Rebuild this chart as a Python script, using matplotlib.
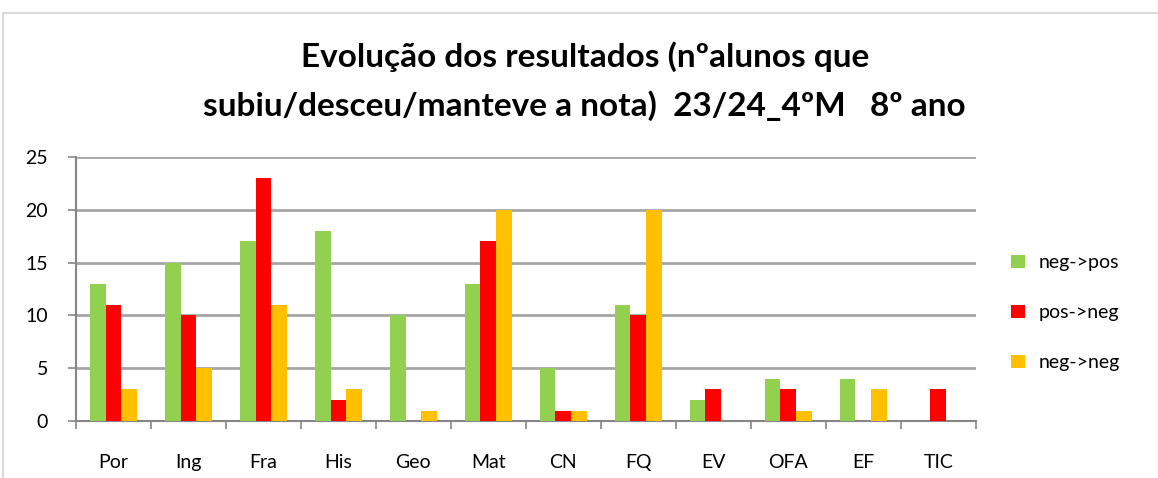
import matplotlib.pyplot as plt
import numpy as np
from matplotlib.lines import Line2D

subjects = ['Por', 'Ing', 'Fra', 'His', 'Geo', 'Mat', 'CN', 'FQ', 'EV', 'OFA', 'EF', 'TIC']
neg_pos = [13, 15, 17, 18, 10, 13, 5, 11, 2, 4, 4, 0]
pos_neg = [11, 10, 23, 2, 0, 17, 1, 10, 3, 3, 0, 3]
neg_neg = [3, 5, 11, 3, 1, 20, 1, 20, 0, 1, 3, 0]

plt.rcParams['font.family'] = ['Lato', 'DejaVu Sans']

fig = plt.figure(figsize=(11.58, 4.78), dpi=100)
ax = fig.add_axes([0.0656, 0.119, 0.777, 0.553])

x = np.arange(len(subjects))
w = 0.21
ax.bar(x - w, neg_pos, w, color='#92D050', label='neg->pos', zorder=3)
ax.bar(x, pos_neg, w, color='#FF0000', label='pos->neg', zorder=3)
ax.bar(x + w, neg_neg, w, color='#FFC000', label='neg->neg', zorder=3)

ax.set_xlim(-0.5, len(subjects) - 0.5)
ax.set_ylim(0, 25)
ax.set_yticks(range(0, 26, 5))
ax.set_xticks(x)
ax.set_xticklabels(subjects, fontsize=14)
ax.set_xticks(np.arange(-0.5, len(subjects), 1), minor=True)
ax.tick_params(axis='x', which='major', length=0, pad=24)
ax.tick_params(axis='x', which='minor', length=6, color='#868686', width=1.2)
ax.tick_params(axis='y', length=6, color='#868686', width=1.2, labelsize=14, pad=14)

ax.grid(axis='y', color='#A6A6A6', linewidth=2, zorder=0)
for s in ['top', 'right']:
    ax.spines[s].set_visible(False)
for s in ['left', 'bottom']:
    ax.spines[s].set_color('#868686')
    ax.spines[s].set_linewidth(1.5)

ax.legend(loc='center left', bbox_to_anchor=(1.02, 0.41), frameon=False,
          fontsize=14, handlelength=0.7, handleheight=0.7, labelspacing=1.7,
          handletextpad=0.7)

fig.text(0.505, 0.881, 'Evolução dos resultados (nºalunos que', ha='center', va='center',
         fontsize=24, fontweight='bold')
fig.text(0.505, 0.78, 'subiu/desceu/manteve a nota)  23/24_4ºM   8º ano', ha='center',
         va='center', fontsize=24, fontweight='bold')

fig.add_artist(Line2D([0.003, 1], [0.973, 0.973], color='#D9D9D9', linewidth=1.5))
fig.add_artist(Line2D([0.003, 0.003], [0, 0.973], color='#D9D9D9', linewidth=1.5))

fig.savefig('out.png', dpi=100)
